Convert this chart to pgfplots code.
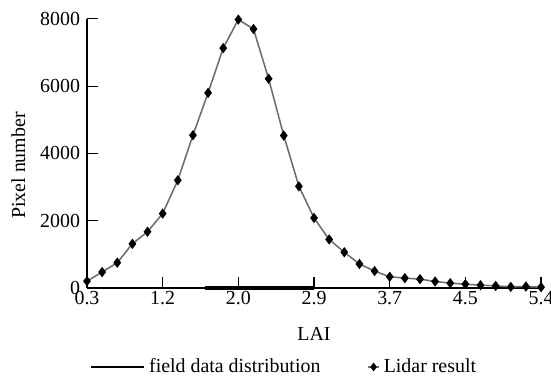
\documentclass[border=0pt]{standalone}
\usepackage{fontspec}
\setmainfont{Liberation Serif}
\usepackage{pgfplots}
\pgfplotsset{compat=1.18}
\begin{document}
\fontsize{10.2}{12}\selectfont
\begin{tikzpicture}
\begin{axis}[
  scale only axis,
  width=232.8pt, height=137.9pt,
  xmin=0.3, xmax=5.4, ymin=0, ymax=8000,
  axis lines=left,
  axis line style={-, line width=0.7pt},
  tick align=inside,
  major tick length=5.6pt,
  tick style={line width=0.6pt, black},
  xtick={0.3,1.15,2.0,2.85,3.7,4.55,5.4},
  xticklabels={0.3,1.2,2.0,2.9,3.7,4.5,5.4},
  ytick={0,2000,4000,6000,8000},
  yticklabels={0,2000,4000,6000,8000},
  /pgf/number format/assume math mode=true,
  tick label style={font=\fontsize{10.2}{12}\selectfont},
  label style={font=\fontsize{10.2}{12}\selectfont},
  xticklabel style={inner sep=1.5pt},
  xlabel={LAI},
  ylabel={Pixel number},
  xlabel style={at={(axis description cs:0.5,-0.17)}, anchor=center},
  ylabel style={at={(axis description cs:-0.151,0.455)}, anchor=center},
  clip=false,
  legend style={at={(0.436,-0.294)}, anchor=center, draw=none, fill=none,
    legend columns=2, /tikz/every even column/.append style={column sep=22pt},
    font=\fontsize{10.2}{12}\selectfont},
]
\addplot[black, line width=2.2pt, legend image code/.code={\draw[black, line width=1.3pt] (0cm,0cm) -- (0.95cm,0cm);}]
  coordinates {(1.62,0) (2.85,0)};
\addlegendentry{field data distribution}
\addplot[color={rgb,255:red,110;green,110;blue,110}, line width=0.8pt, mark=diamond*, mark size=2pt,
  mark options={fill=black, draw=black, solid},
  legend image code/.code={\path (0cm,0cm) -- (0.2cm,0cm); \draw[black, mark=diamond*, mark size=1.6pt, mark options={fill=black}] plot coordinates {(0.1cm,0cm)};}]
  coordinates {
  (0.30,200) (0.47,470) (0.64,750) (0.81,1310) (0.98,1670) (1.15,2210)
  (1.32,3200) (1.49,4540) (1.66,5800) (1.83,7130) (2.00,7980) (2.17,7700)
  (2.34,6220) (2.51,4530) (2.68,3020) (2.85,2080) (3.02,1440) (3.19,1060)
  (3.36,710) (3.53,500) (3.70,330) (3.87,290) (4.04,260) (4.21,190)
  (4.38,140) (4.55,110) (4.72,80) (4.89,60) (5.06,30) (5.23,40) (5.40,20)
  };
\addlegendentry{Lidar result}
\end{axis}
\pgfresetboundingbox
\path[use as bounding box] ([xshift=-44.6pt, yshift=-49.7pt]current axis.south west) rectangle ([xshift=5.1pt, yshift=9.7pt]current axis.north east);
\end{tikzpicture}
\end{document}
